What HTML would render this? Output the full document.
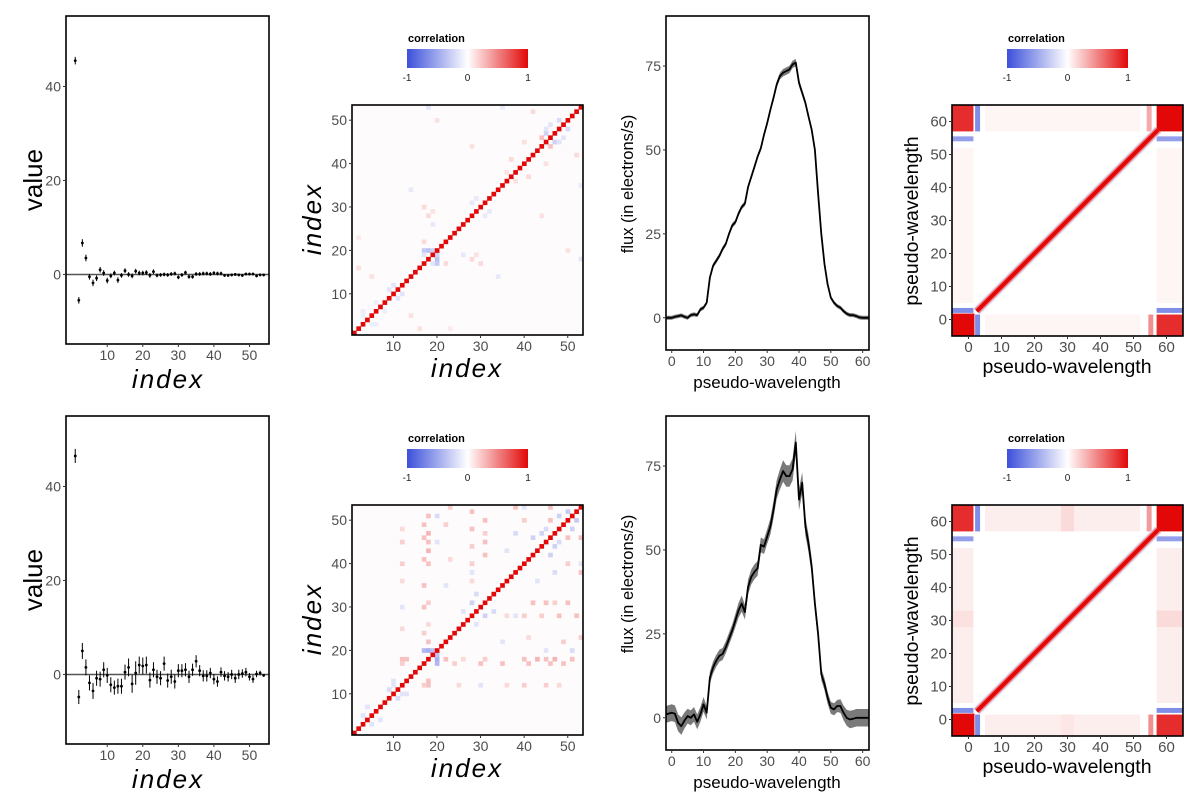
<!DOCTYPE html>
<html><head><meta charset="utf-8"><style>
html,body{margin:0;padding:0;background:#fff;}
svg{display:block;font-family:"Liberation Sans",sans-serif;}
</style></head><body>
<svg id="chart" width="1200" height="800" viewBox="0 0 1200 800" xmlns="http://www.w3.org/2000/svg">
<defs>
<linearGradient id="cbar" x1="0" x2="1" y1="0" y2="0">
<stop offset="0" stop-color="rgb(60,80,218)"/><stop offset="0.5" stop-color="#ffffff"/><stop offset="1" stop-color="rgb(226,8,8)"/>
</linearGradient>
</defs>
</svg>
<script>
// ===== data =====
const valIndex = [1,2,3,4,5,6,7,8,9,10,11,12,13,14,15,16,17,18,19,20,21,22,23,24,25,26,27,28,29,30,31,32,33,34,35,36,37,38,39,40,41,42,43,44,45,46,47,48,49,50,51,52,53,54];
const values1 = [45.5,-5.5,6.7,3.5,-0.5,-1.8,-0.8,1.0,0.3,-1.3,-0.3,0.3,-1.2,-0.2,0.8,0,-0.3,0.7,0.3,0.3,0.4,-0.2,0.6,-0.2,-0.1,0,-0.1,0.1,0.2,-0.6,-0.1,0.4,-0.5,-0.5,0.1,0.1,0.2,0.2,0.1,0.3,0.2,0.2,-0.2,-0.2,-0.1,0,-0.1,-0.2,0.1,0.1,0.1,-0.3,-0.1,-0.1];
const errors1 = [0.8,0.7,0.8,0.7,0.6,0.7,0.6,0.6,0.6,0.6,0.5,0.5,0.6,0.5,0.5,0.5,0.5,0.5,0.5,0.5,0.5,0.5,0.5,0.4,0.4,0.4,0.4,0.4,0.4,0.4,0.4,0.4,0.4,0.4,0.4,0.4,0.4,0.4,0.4,0.4,0.4,0.4,0.3,0.3,0.3,0.3,0.3,0.3,0.3,0.3,0.3,0.3,0.3,0.3];
const values2 = [46.5,-4.8,5,1.5,-1.8,-3.5,-0.8,-1,1,-0.2,-2.2,-2.8,-2.5,-2.5,0.5,1.5,-2,0.3,2,1.8,2,-1.2,1,-0.5,-0.8,2.3,-1.3,-0.5,-1.5,0.8,0.8,1,-0.5,1,2.8,0.8,-0.3,-0.3,0.3,-1,-1.5,0.5,-0.3,-0.5,0,-0.8,0,0.2,0.5,-0.5,-1,0.1,0.3,-0.2];
const errors2 = [1.5,1.5,1.7,1.7,1.6,1.7,1.6,1.6,1.6,1.6,1.6,1.5,1.6,1.6,1.6,1.9,1.9,2.5,1.8,1.8,1.8,1.6,1.6,1.5,1.5,1.5,1.5,1.5,1.5,1.4,1.4,1.4,1.3,1.3,1.3,1.2,1.2,1.2,1.1,1.1,1.1,1.0,1.0,1.0,1.0,1.0,1.0,0.9,0.9,0.8,0.8,0.7,0.5,0.3];
const valueYTicks = [0,20,40];
const indexTicks = [10,20,30,40,50];

const fluxX = [-1.8,0,1,2,3,4,5,6,7,8,9,10,11,12,13,14,15,16,17,18,19,20,21,22,23,24,25,26,27,28,29,30,31,32,33,34,35,36,37,38,39,40,41,42,43,44,45,46,47,48,49,50,51,52,53,54,55,56,57,58,59,60,62];
const flux1 = [0, 0,0.3,0.5,0.7,0.3,0,0.8,1,0.8,2.5, 3,4.5,12,15.5,17,18.5,20.5,22,25,27.5, 28.5,31,33,34,39,42,45,48,50.5,54.5, 58,62,65.5,69.5,72,73,73.5,74,75.5,76, 70,67,64,60,56,50,37,25,16,10, 6,4.5,3.5,3,2,1.2,0.8,0.8,0.5,0.1, 0, 0];
const fluxSe1 = [0.6, 0.6,0.6,0.6,0.6,0.6,0.6,0.6,0.6,0.6,0.6, 0.6,0.6,0.7,0.7,0.7,0.7,0.7,0.7,0.7,0.7, 0.7,0.7,0.7,0.7,0.7,0.7,0.7,0.7,0.8,0.8, 0.8,0.8,0.8,0.9,1.0,1.1,1.1,1.1,1.1,1.1, 1.0,0.9,0.9,0.8,0.8,0.8,0.7,0.7,0.7,0.6, 0.6,0.6,0.6,0.6,0.6,0.6,0.6,0.6,0.6,0.6, 0.6, 0.6];
const flux2 = [1, 1.5,1.2,-1.5,-2.5,-0.8,0.5,0,1,-1.2,1, 4,1.5,12,15,17,18.5,19,21,23.5,26, 29,32,34,31.5,39,42,43.5,44.5,51.5,51, 54,57,62,68,71,73.5,72,72,74,82, 65,70,57,52,45,34,25,13,10,6, 3,2.5,3.5,3.5,1.5,0,-0.5,-0.3,0,0, 0, 0];
const fluxSe2 = [2.5, 2.5,2.5,2.5,2.6,2.4,2.2,2.2,2.2,2.2,2.2, 2.2,2.0,1.8,1.8,1.8,1.8,1.8,1.8,1.8,1.8, 2.0,2.2,2.4,2.2,2.2,2.2,2.2,2.2,2.2,2.2, 2.2,2.4,2.6,2.8,3.0,3.2,3.2,3.2,3.3,3.5, 3.2,3.2,2.8,2.6,2.4,2.2,2.0,1.8,1.8,1.8, 1.8,1.8,1.8,2.0,2.2,2.4,2.6,2.6,2.6,2.6, 2.6, 2.6];
const fluxYTicks = [0,25,50,75];
const waveTicks = [0,10,20,30,40,50,60];

const nIndex = 53;
const corrOff1 = [[20,17,-0.3],[20,18,-0.35],[20,19,-0.25],[19,17,-0.15],[12,10,-0.15],[11,9,-0.15],[5,3,-0.1],[6,3,-0.1],[8,6,-0.1],[47,45,-0.25],[48,45,-0.15],[46,44,0.25],[50,48,-0.2],[49,46,-0.15],[31,28,-0.12],[32,29,-0.12],[41,37,0.15],[38,36,0.12],[30,17,0.15],[29,19,0.12],[26,19,-0.12],[52,42,0.15],[53,35,-0.12],[45,40,0.12],[14,5,0.12],[16,2,0.12],[28,18,0.15],[22,17,0.15],[34,14,-0.12],[23,2,0.08],[53,18,-0.15],[50,20,0.12],[44,28,0.12]];
const corrOff2 = [[20,17,-0.4],[20,18,-0.45],[20,19,-0.35],[18,12,0.25],[18,13,0.25],[17,12,0.2],[13,10,-0.15],[11,9,-0.2],[12,10,-0.15],[5,3,-0.15],[7,4,-0.15],[30,17,0.25],[31,18,0.2],[29,26,-0.15],[31,28,-0.25],[33,29,-0.2],[35,17,0.25],[35,22,-0.15],[40,18,0.25],[41,17,0.25],[43,18,0.3],[45,18,0.25],[46,17,0.25],[47,18,0.3],[49,17,0.25],[51,18,0.25],[42,31,0.25],[45,31,0.25],[47,31,0.2],[50,31,0.25],[46,42,-0.25],[47,44,-0.25],[48,45,-0.2],[50,46,0.25],[51,48,-0.25],[52,50,-0.3],[53,46,0.25],[53,38,0.25],[40,28,0.2],[38,28,-0.15],[44,28,0.2],[36,28,0.15],[48,28,0.25],[52,28,0.25],[50,40,0.2],[53,40,-0.15],[43,36,-0.15],[47,38,-0.2],[45,20,-0.15],[51,20,-0.2],[48,12,0.15],[45,12,0.2],[40,12,0.2],[36,12,0.15],[25,12,0.15],[30,12,-0.15],[22,18,0.25],[24,17,0.2],[26,18,0.15],[53,23,0.2],[49,22,0.2],[41,23,0.15]];

// wavelength correlation features: [x0,x1,y0,y1,corr]
const waveBlocks1 = [[-5,1.8,-5,1.8,1],[57,65,57,65,1],[-5,1.5,57,65,0.85],[57,65,-5,1.5,0.85],
 [2,3.5,57,65,-0.65],[-5,1.5,54,55.5,-0.55],[57,65,2,3.5,-0.65],[2,3.5,-5,1.5,-0.65],[-5,1.5,2,3.5,-0.65],[54,55.5,57,65,0.35],[57,65,54,55.5,-0.55],[54.5,56,-5,1.5,0.45],
 [-5,1.5,5,52,0.04],[57,65,5,52,0.04],[5,52,-5,1.5,0.04],[5,52,57,65,0.04]];
const waveBlocks2 = [[-5,1.8,-5,1.8,1],[57,65,57,65,1],[-5,1.5,57,65,0.85],[57,65,-5,1.5,0.85],
 [2,3.5,57,65,-0.65],[-5,1.5,54,55.5,-0.55],[57,65,2,3.5,-0.65],[2,3.5,-5,1.5,-0.65],[-5,1.5,2,3.5,-0.65],[54,55.5,57,65,0.4],[57,65,54,55.5,-0.55],[54.5,56,-5,1.5,0.45],
 [-5,1.5,5,52,0.07],[57,65,5,52,0.07],[5,52,-5,1.5,0.07],[5,52,57,65,0.07],[28,32,57,65,0.15],[28,32,-5,1.5,0.1],[57,65,28,33,0.15],[-5,1.5,28,33,0.12]];
const waveDiag = [2.5, 57.5];

// ===== helpers =====
const NS='http://www.w3.org/2000/svg';
const svg=document.getElementById('chart');
function mk(tag,parent){const e=document.createElementNS(NS,tag);parent.appendChild(e);return e;}
function lin(d0,d1,r0,r1){return v=>r0+(v-d0)/(d1-d0)*(r1-r0);}
function corrColor(c){
  c=Math.max(-1,Math.min(1,c));
  let r,g,b;
  if(c>=0){r=255+(226-255)*c;g=255+(8-255)*c;b=255+(8-255)*c;}
  else{const t=-c;r=255+(60-255)*t;g=255+(80-255)*t;b=255+(218-255)*t;}
  return `rgb(${Math.round(r)},${Math.round(g)},${Math.round(b)})`;
}
function text(parent,x,y,str,size,anchor,opts){
  const t=mk('text',parent);
  t.setAttribute('x',x);t.setAttribute('y',y);
  t.setAttribute('font-size',size);t.setAttribute('text-anchor',anchor);
  t.setAttribute('fill',(opts&&opts.fill)||'#4d4d4d');
  if(opts&&opts.italic)t.setAttribute('font-style','italic');
  if(opts&&opts.bold)t.setAttribute('font-weight','bold');
  if(opts&&opts.ls)t.setAttribute('letter-spacing',opts.ls);
  if(opts&&opts.rot)t.setAttribute('transform',`rotate(-90 ${x} ${y})`);
  t.textContent=str;
  return t;
}
function frame(g,x0,y0,x1,y1){
  const r=mk('rect',g);
  r.setAttribute('x',x0);r.setAttribute('y',y0);r.setAttribute('width',x1-x0);r.setAttribute('height',y1-y0);
  r.setAttribute('fill','none');r.setAttribute('stroke','#000');r.setAttribute('stroke-width','1.6');
  
  
}
function xTicks(g,ticks,sx,y,size){
  ticks.forEach(v=>{
    const l=mk('line',g);l.setAttribute('x1',sx(v));l.setAttribute('x2',sx(v));l.setAttribute('y1',y);l.setAttribute('y2',y+3);l.setAttribute('stroke','#333');
    
    
    const t=text(g,sx(v),y+16,String(v),size,'middle');
    
    
  });
}
function yTicks(g,ticks,sy,x,size){
  ticks.forEach(v=>{
    const l=mk('line',g);l.setAttribute('x1',x-3);l.setAttribute('x2',x);l.setAttribute('y1',sy(v));l.setAttribute('y2',sy(v));l.setAttribute('stroke','#333');
    
    
    const t=text(g,x-5,sy(v)+5,String(v),size,'end');
    
    
  });
}
function colorbar(g,x,y){
  const t=text(g,x+1,y-7,'correlation',11,'start',{bold:true,fill:'#000'});
  
  
  const r=mk('rect',g);r.setAttribute('x',x);r.setAttribute('y',y);r.setAttribute('width',121);r.setAttribute('height',19);r.setAttribute('fill','url(#cbar)');
  
  
  [['-1',0],['0',60.5],['1',121]].forEach(([s,dx])=>{
    const l=text(g,x+dx,y+32,s,10,'middle',{fill:'#222'});
    
    
  });
}

// ===== panel: values with error bars =====
function valuePanel(oy,vals,errs,tag){
  const g=mk('g',svg);
  
  
  const sx=lin(-1.6,55.5,66,269), sy=lin(-14.8,55,344+oy,16+oy);
  const z=mk('line',g);z.setAttribute('x1',66);z.setAttribute('x2',269);z.setAttribute('y1',sy(0));z.setAttribute('y2',sy(0));z.setAttribute('stroke','#555');z.setAttribute('stroke-width','1.5');
  
  
  vals.forEach((v,i)=>{
    const x=sx(valIndex[i]);
    const e=mk('line',g);e.setAttribute('x1',x);e.setAttribute('x2',x);e.setAttribute('y1',sy(v-errs[i]));e.setAttribute('y2',sy(v+errs[i]));e.setAttribute('stroke','#000');e.setAttribute('stroke-width','1');
    
    
    const c=mk('circle',g);c.setAttribute('cx',x);c.setAttribute('cy',sy(v));c.setAttribute('r',1.4);c.setAttribute('fill','#000');
    
    
  });
  frame(g,66,16+oy,269,344+oy);
  xTicks(g,indexTicks,sx,344+oy,14);
  yTicks(g,valueYTicks,sy,66,14);
  const xt=text(g,168,388+oy,'index',26,'middle',{italic:true,ls:'2',fill:'#000'});
  
  
  const yt=text(g,42,180+oy,'value',26,'middle',{rot:true,fill:'#000'});
  
  
}

// ===== panel: index correlation heatmap =====
function indexHeat(oy,offs,tag){
  const g=mk('g',svg);
  
  
  const sx=lin(0.5,nIndex+0.5,352,583), sy=lin(0.5,nIndex+0.5,335+oy,105+oy);
  const cw=sx(1.5)-sx(0.5), ch=sy(0.5)-sy(1.5);
  const bg=mk('rect',g);bg.setAttribute('x',352);bg.setAttribute('y',105+oy);bg.setAttribute('width',231);bg.setAttribute('height',230);bg.setAttribute('fill','#fdfbfb');
  
  
  function cell(i,j,v){
    const r=mk('rect',g);r.setAttribute('x',sx(i-0.5));r.setAttribute('y',sy(j+0.5));r.setAttribute('width',cw+0.3);r.setAttribute('height',ch+0.3);r.setAttribute('fill',corrColor(v));
    
    
  }
  offs.forEach(([i,j,v])=>{cell(i,j,v);cell(j,i,v);});
  for(let k=1;k<=nIndex;k++)cell(k,k,1);
  frame(g,352,105+oy,583,335+oy);
  xTicks(g,indexTicks,sx,335+oy,14);
  yTicks(g,indexTicks,sy,352,14);
  const xt=text(g,467,377+oy,'index',26,'middle',{italic:true,ls:'2',fill:'#000'});
  
  
  const yt=text(g,321,219+oy,'index',26,'middle',{italic:true,ls:'2',rot:true,fill:'#000'});
  
  
  colorbar(g,407,49+oy);
}

// ===== panel: flux =====
function fluxPanel(oy,vals,se,tag){
  const g=mk('g',svg);
  
  
  const sx=lin(-1.8,62,666,869), sy=lin(-9.6,89.9,350+oy,16+oy);
  let up='',dn='',ln='';
  fluxX.forEach((x,i)=>{
    up+=(i?'L':'M')+sx(x).toFixed(1)+','+sy(vals[i]+se[i]).toFixed(1);
    ln+=(i?'L':'M')+sx(x).toFixed(1)+','+sy(vals[i]).toFixed(1);
  });
  for(let i=fluxX.length-1;i>=0;i--)dn+='L'+sx(fluxX[i]).toFixed(1)+','+sy(vals[i]-se[i]).toFixed(1);
  const rb=mk('path',g);rb.setAttribute('d',up+dn+'Z');rb.setAttribute('fill','#7a7a7a');
  
  
  const p=mk('path',g);p.setAttribute('d',ln);p.setAttribute('fill','none');p.setAttribute('stroke','#000');p.setAttribute('stroke-width','1.8');p.setAttribute('stroke-linejoin','round');
  
  
  frame(g,666,16+oy,869,350+oy);
  xTicks(g,waveTicks,sx,350+oy,14);
  yTicks(g,fluxYTicks,sy,666,14);
  const xt=text(g,767,388+oy,'pseudo-wavelength',17,'middle',{fill:'#000'});
  
  
  const yt=text(g,633,184+oy,'flux (in electrons/s)',16.5,'middle',{rot:true,fill:'#000'});
  
  
}

// ===== panel: wavelength correlation =====
function waveHeat(oy,blocks,tag){
  const g=mk('g',svg);
  
  
  const sx=lin(-5,65,952,1183), sy=lin(-5,65,336+oy,105+oy);
  const cp=mk('clipPath',g);cp.setAttribute('id','clipw'+tag);
  const cr=mk('rect',cp);cr.setAttribute('x',952);cr.setAttribute('y',105+oy);cr.setAttribute('width',231);cr.setAttribute('height',231);
  const inner=mk('g',g);inner.setAttribute('clip-path',`url(#clipw${tag})`);
  blocks.forEach(([x0,x1,y0,y1,c])=>{
    const r=mk('rect',inner);r.setAttribute('x',sx(x0));r.setAttribute('y',sy(y1));r.setAttribute('width',sx(x1)-sx(x0));r.setAttribute('height',sy(y0)-sy(y1));r.setAttribute('fill',corrColor(c));
    
    
  });
  const dB=mk('line',inner);dB.setAttribute('x1',sx(waveDiag[0]));dB.setAttribute('y1',sy(waveDiag[0]));dB.setAttribute('x2',sx(waveDiag[1]));dB.setAttribute('y2',sy(waveDiag[1]));dB.setAttribute('stroke',corrColor(-0.2));dB.setAttribute('stroke-width','9');
  
  
  const dW=mk('line',inner);dW.setAttribute('x1',sx(waveDiag[0]));dW.setAttribute('y1',sy(waveDiag[0]));dW.setAttribute('x2',sx(waveDiag[1]));dW.setAttribute('y2',sy(waveDiag[1]));dW.setAttribute('stroke',corrColor(0.5));dW.setAttribute('stroke-width','6.5');
  
  
  const d=mk('line',inner);d.setAttribute('x1',sx(waveDiag[0]));d.setAttribute('y1',sy(waveDiag[0]));d.setAttribute('x2',sx(waveDiag[1]));d.setAttribute('y2',sy(waveDiag[1]));d.setAttribute('stroke',corrColor(1));d.setAttribute('stroke-width','4');
  
  
  frame(g,952,105+oy,1183,336+oy);
  xTicks(g,waveTicks,sx,336+oy,15);
  yTicks(g,waveTicks,sy,952,15);
  const xt=text(g,1067,373+oy,'pseudo-wavelength',19.5,'middle',{fill:'#000'});
  
  
  const yt=text(g,918,221+oy,'pseudo-wavelength',19.5,'middle',{rot:true,fill:'#000'});
  
  
  colorbar(g,1007,49+oy);
}

valuePanel(0,values1,errors1,'top');
valuePanel(400,values2,errors2,'bottom');
indexHeat(0,corrOff1,'top');
indexHeat(400,corrOff2,'bottom');
fluxPanel(0,flux1,fluxSe1,'top');
fluxPanel(400,flux2,fluxSe2,'bottom');
waveHeat(0,waveBlocks1,'top');
waveHeat(400,waveBlocks2,'bottom');
</script>
</body></html>
